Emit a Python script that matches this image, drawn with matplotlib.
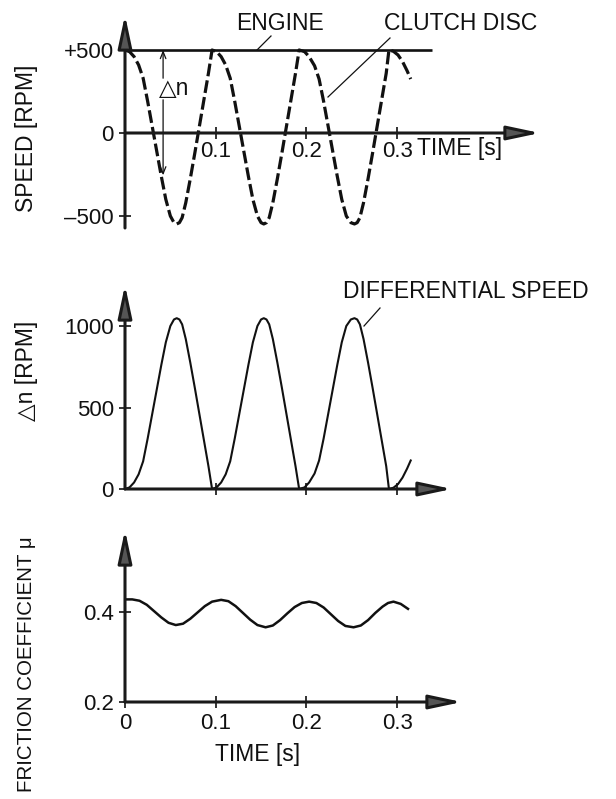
import matplotlib
matplotlib.use('Agg')
import matplotlib.pyplot as plt

plt.rcParams['font.family'] = ['Liberation Sans', 'DejaVu Sans']

# ── data ──────────────────────────────────────────────────────────────────────
ENGINE_T = [0.0, 0.338]
ENGINE_RPM = [500, 500]

SLIP_T = [0.000, 0.005, 0.010, 0.015, 0.020, 0.025, 0.030, 0.035, 0.040, 0.045,
          0.050, 0.054, 0.057, 0.060, 0.063, 0.067, 0.072, 0.077, 0.082, 0.087,
          0.092, 0.096,
          0.101, 0.106, 0.111, 0.116, 0.121, 0.126, 0.131, 0.136, 0.141, 0.146,
          0.150, 0.153, 0.156, 0.159, 0.163, 0.168, 0.173, 0.178, 0.183, 0.188,
          0.192,
          0.198, 0.203, 0.209, 0.214, 0.219, 0.224, 0.229, 0.234, 0.239, 0.244,
          0.249, 0.253, 0.256, 0.259, 0.263, 0.268, 0.273, 0.278, 0.283, 0.288,
          0.291,
          0.296, 0.301, 0.306, 0.311, 0.315]

CLUTCH_RPM = [500, 490, 460, 410, 330, 190, 40, -110, -260, -400,
              -500, -540, -548, -540, -510, -420, -275, -120, 40, 200,
              360, 500,
              490, 460, 410, 330, 190, 40, -110, -260, -400,
              -500, -540, -548, -540, -510, -420, -275, -120, 40, 200,
              360, 500,
              490, 460, 405, 325, 190, 40, -110, -260, -400,
              -500, -540, -548, -540, -510, -420, -275, -120, 40, 200,
              360, 500,
              492, 470, 430, 375, 325]

DELTA_RPM = [0, 10, 40, 90, 170, 310, 460, 610, 760, 900,
             1000, 1040, 1048, 1040, 1010, 920, 775, 620, 460, 300,
             140, 0,
             10, 40, 90, 170, 310, 460, 610, 760, 900,
             1000, 1040, 1048, 1040, 1010, 920, 775, 620, 460, 300,
             140, 0,
             10, 40, 95, 175, 310, 460, 610, 760, 900,
             1000, 1040, 1048, 1040, 1010, 920, 775, 620, 460, 300,
             140, 0,
             8, 30, 70, 125, 175]

MU_T = [0.000, 0.008, 0.016, 0.024, 0.032, 0.040, 0.048, 0.056,
        0.064, 0.072, 0.080, 0.088, 0.096, 0.106,
        0.114, 0.122, 0.130, 0.138, 0.146, 0.155,
        0.163, 0.171, 0.179, 0.187, 0.195, 0.203,
        0.211, 0.219, 0.227, 0.235, 0.243, 0.252,
        0.260, 0.268, 0.276, 0.284, 0.290, 0.296, 0.304, 0.312]
MU = [0.428, 0.428, 0.425, 0.416, 0.402, 0.388, 0.376, 0.371,
      0.374, 0.385, 0.399, 0.413, 0.423, 0.427,
      0.424, 0.413, 0.398, 0.383, 0.371, 0.366,
      0.370, 0.382, 0.397, 0.411, 0.420, 0.423,
      0.420, 0.410, 0.395, 0.380, 0.369, 0.366,
      0.370, 0.382, 0.398, 0.412, 0.420, 0.423, 0.418, 0.407]

SPEED_TICKS = [500, 0, -500]
SPEED_LABELS = ['+500', '0', '–500']
DELTA_TICKS = [0, 500, 1000]
MU_TICKS = [0.2, 0.4]
TIME_TICKS = [0.1, 0.2, 0.3]
TIME_LABELS = ['0.1', '0.2', '0.3']

# ── figure ────────────────────────────────────────────────────────────────────
W, H = 616, 799
fig = plt.figure(figsize=(W / 100, H / 100), dpi=100)
fig.patch.set_facecolor('white')

INK = '#111111'
FS = 16.5      # captions
TFS = 16       # tick labels


def panel(left, right, top, bottom):
    return fig.add_axes([left / W, 1 - bottom / H, (right - left) / W, (bottom - top) / H])


def axis_arrow(ax, x0, y0, x1, y1):
    ax.annotate('', xy=(x1, y1), xytext=(x0, y0),
                arrowprops=dict(arrowstyle='-|>,head_length=0.8,head_width=0.17',
                                mutation_scale=25, lw=2.2, ec='#1a1a1a', fc='#555555',
                                shrinkA=0, shrinkB=0),
                annotation_clip=False, zorder=5)


def style(ax):
    for s in ax.spines.values():
        s.set_visible(False)
    ax.spines['left'].set_position(('data', 0))
    ax.set_facecolor('none')
    ax.tick_params(direction='inout', length=9, width=1.2, colors=INK, labelsize=TFS)
    ax.tick_params(axis='y', pad=3.5)


def fig_text(x, y, s, size=FS, **kw):
    fig.text(x / W, 1 - y / H, s, fontsize=size, color=INK, **kw)


# ── panel 1: speed ────────────────────────────────────────────────────────────
ax1 = panel(125, 540, 15, 228)
ax1.set_xlim(0, 415 / 907)
ax1.set_ylim((133 - 228) / 0.166, (133 - 15) / 0.166)
style(ax1)
ax1.spines['bottom'].set_position(('data', 0))
ax1.tick_params(axis='x', pad=1.5)
ax1.set_yticks(SPEED_TICKS)
ax1.set_yticklabels(SPEED_LABELS)
ax1.set_xticks(TIME_TICKS)
ax1.set_xticklabels(TIME_LABELS)
axis_arrow(ax1, 0, ax1.get_ylim()[0], 0, ax1.get_ylim()[1])
axis_arrow(ax1, 0, 0, ax1.get_xlim()[1], 0)

ax1.plot(ENGINE_T, ENGINE_RPM, color=INK, lw=1.9, solid_capstyle='butt')
ax1.plot(SLIP_T, CLUTCH_RPM, color=INK, lw=2.3, linestyle=(0, (4, 1.3)))

# delta-n marker
ax1.annotate('', xy=(0.042, 500), xytext=(0.042, 330),
             arrowprops=dict(arrowstyle='->,head_length=0.5,head_width=0.2',
                             lw=0.9, color=INK, shrinkA=0, shrinkB=0))
ax1.annotate('', xy=(0.042, -255), xytext=(0.042, 200),
             arrowprops=dict(arrowstyle='->,head_length=0.5,head_width=0.2',
                             lw=0.9, color=INK, shrinkA=0, shrinkB=0))
fig_text(174, 88, '△n', ha='center', va='center')

# labels and leaders
fig_text(280, 24, 'ENGINE', ha='center', va='center')
fig_text(461, 23, 'CLUTCH DISC', ha='center', va='center')
fig_text(417, 148, 'TIME [s]', ha='left', va='center')
fig.add_artist(plt.Line2D([271 / W, 257 / W], [1 - 36 / H, 1 - 50 / H], color=INK, lw=0.9))
fig.add_artist(plt.Line2D([390 / W, 328 / W], [1 - 38 / H, 1 - 97 / H], color=INK, lw=0.9))
fig_text(27, 138, 'SPEED [RPM]', ha='center', va='center', rotation=90)

# ── panel 2: differential speed ───────────────────────────────────────────────
ax2 = panel(125, 452, 285, 489)
ax2.set_xlim(0, 327 / 907)
ax2.set_ylim(0, 204 / 0.163)
style(ax2)
ax2.spines['bottom'].set_position(('data', 0))
ax2.set_yticks(DELTA_TICKS)
ax2.set_xticks(TIME_TICKS)
ax2.set_xticklabels([])
axis_arrow(ax2, 0, 0, 0, ax2.get_ylim()[1])
axis_arrow(ax2, 0, 0, ax2.get_xlim()[1], 0)
ax2.plot(SLIP_T, DELTA_RPM, color=INK, lw=1.5)

fig_text(466, 291, 'DIFFERENTIAL SPEED', ha='center', va='center')
fig.add_artist(plt.Line2D([380 / W, 364 / W], [1 - 308 / H, 1 - 326 / H], color=INK, lw=0.9))
fig_text(26, 371, '△n [RPM]', ha='center', va='center', rotation=90)

# ── panel 3: friction coefficient ─────────────────────────────────────────────
ax3 = panel(125, 462, 530, 702)
ax3.set_xlim(0, 337 / 907)
ax3.set_ylim(0.2, 0.2 + 172 / 450)
style(ax3)
ax3.spines['bottom'].set_position(('data', 0.2))
ax3.tick_params(axis='x', pad=3.5)
ax3.set_yticks(MU_TICKS)
ax3.set_yticklabels(['0.2', '0.4'])
ax3.set_xticks([0.0] + TIME_TICKS)
ax3.set_xticklabels(['0'] + TIME_LABELS)
axis_arrow(ax3, 0, 0.2, 0, ax3.get_ylim()[1])
axis_arrow(ax3, 0, 0.2, ax3.get_xlim()[1], 0.2)
ax3.plot(MU_T, MU, color=INK, lw=1.8)

fig_text(258, 754, 'TIME [s]', ha='center', va='center')
fig_text(27, 664, 'FRICTION COEFFICIENT μ', size=14.8, ha='center', va='center',
         rotation=90)

plt.savefig('out.png', dpi=100, facecolor='white')
plt.close()
